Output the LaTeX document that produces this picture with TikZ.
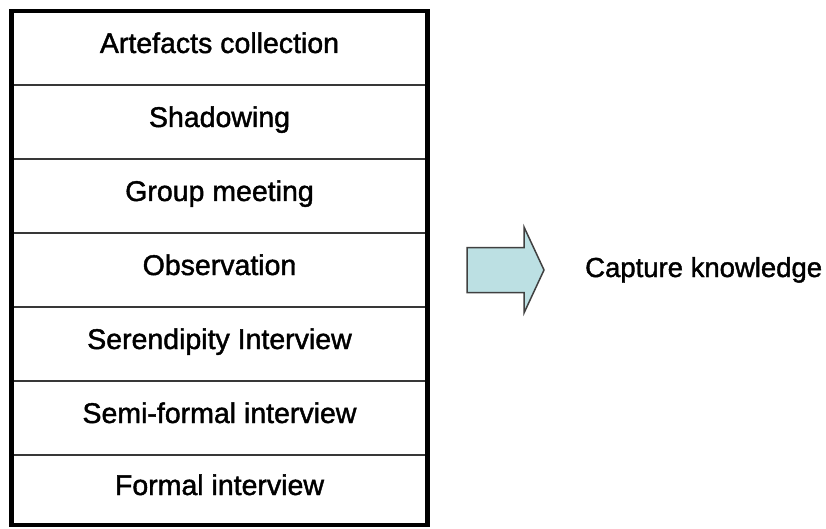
\documentclass[tikz,border=0pt]{standalone}
\usepackage{fontspec}
\setmainfont{Liberation Sans}
\newfontfamily\labelfont{Liberation Sans}[FakeBold=1.5]
\usetikzlibrary{positioning}
\definecolor{arrowfill}{HTML}{BCE0E3}
\begin{document}
\begin{tikzpicture}[x=1pt,y=-1pt,
  stage/.style={draw=black!78, line width=2pt, outer sep=0pt, inner sep=0pt,
    minimum width=416pt, minimum height=74pt,
    font=\labelfont\fontsize{28.5}{32}\selectfont, text height=18pt, text depth=8pt},
  frame/.style={draw=black, line width=4.5pt, line join=miter},
  flow/.style={draw=black!75, line width=1.5pt, fill=arrowfill, line join=miter},
  outcome/.style={font=\labelfont\fontsize{27.5}{31}\selectfont, inner sep=0pt}]
\useasboundingbox (0,0) rectangle (826,529);

% stacked elicitation techniques
\node[stage, anchor=north] (s1) at (219.5,11) {Artefacts collection};
\node[stage, below=0pt of s1] (s2) {Shadowing};
\node[stage, below=0pt of s2] (s3) {Group meeting};
\node[stage, below=0pt of s3] (s4) {Observation};
\node[stage, below=0pt of s4] (s5) {Serendipity Interview};
\node[stage, below=0pt of s5] (s6) {Semi-formal interview};
\node[stage, below=0pt of s6, minimum height=70pt] (s7) {Formal interview};

% heavy outer frame around the stack
\draw[frame] (s1.north west) rectangle (s7.south east);

% block arrow towards the outcome
\draw[flow] (467,247.5) -- (524,247.5) -- (524,227) -- (544,270)
  -- (524,313) -- (524,292.5) -- (467,292.5) -- cycle;

\node[outcome, anchor=base west] (cap) at (585,277) {Capture knowledge};
\end{tikzpicture}
\end{document}
